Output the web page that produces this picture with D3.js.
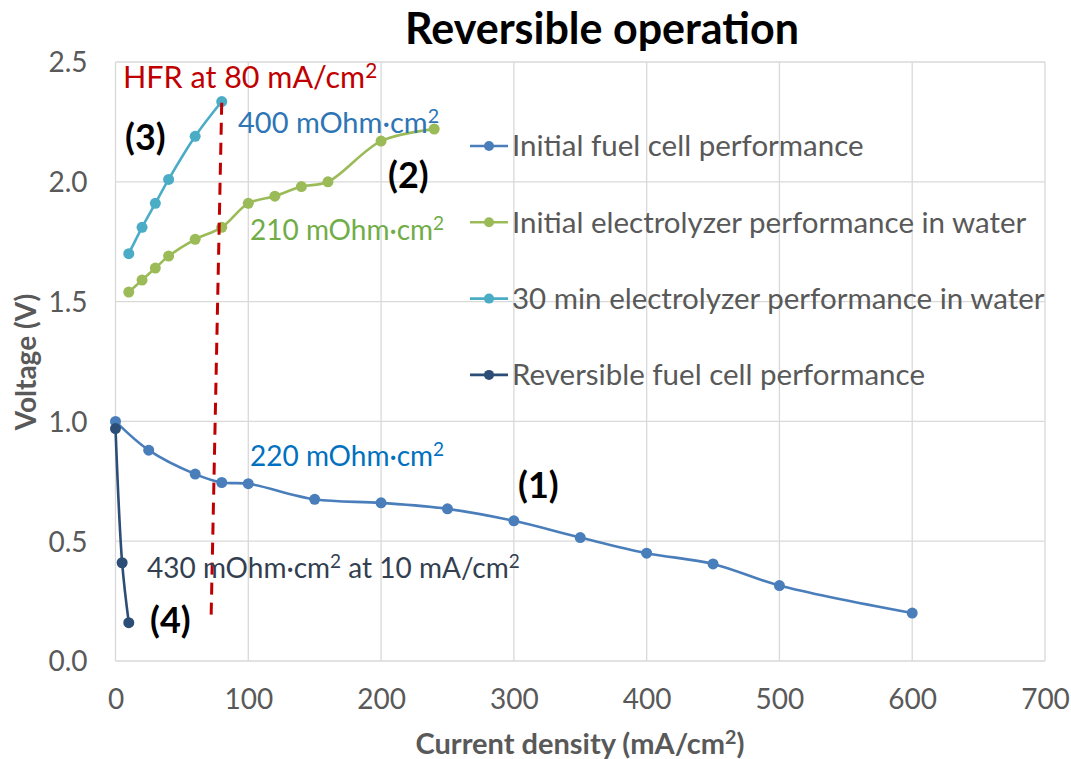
<!DOCTYPE html>
<html>
<head>
<meta charset="utf-8">
<script src="https://cdn.jsdelivr.net/npm/d3@7"></script>
<style>
  body { margin: 0; background: #fff; }
  text { font-family: Lato, "Open Sans", sans-serif; }
</style>
</head>
<body>
<div id="chart"></div>
<script>
// data
var seriesNames = [
    "Initial fuel cell performance",
    "Initial electrolyzer performance in water",
    "30 min electrolyzer performance in water",
    "Reversible fuel cell performance"
];
var seriesColors = ["#4a7ebb", "#9bbb59", "#4bacc6", "#2c4d75"];

var fuelCellX = [0, 25, 60, 80, 100, 150, 200, 250, 300, 350, 400, 450, 500, 600];
var fuelCellV = [1.00, 0.88, 0.78, 0.745, 0.74, 0.675, 0.66, 0.635, 0.585, 0.515, 0.45, 0.405, 0.315, 0.20];

var electroX = [10, 20, 30, 40, 60, 80, 100, 120, 140, 160, 200, 240];
var electroV = [1.54, 1.59, 1.64, 1.69, 1.76, 1.81, 1.91, 1.94, 1.98, 2.00, 2.17, 2.22];

var electro30X = [10, 20, 30, 40, 60, 80];
var electro30V = [1.70, 1.81, 1.91, 2.01, 2.19, 2.335];

var revFuelX = [0, 5, 10];
var revFuelV = [0.97, 0.41, 0.16];

// HFR marker line (x, V) at its two ends
var hfrLineX = [80, 72];
var hfrLineV = [2.33, 0.18];

var xTicks = [0, 100, 200, 300, 400, 500, 600, 700];
var yTicks = [0.0, 0.5, 1.0, 1.5, 2.0, 2.5];

var width = 1071, height = 759;
var svg = d3.select("#chart").append("svg")
    .attr("width", width)
    .attr("height", height);

var x = d3.scaleLinear().domain([0, 700]).range([115.5, 1045]);
var y = d3.scaleLinear().domain([0, 2.5]).range([661, 62]);

var gridColor = "#d9d9d9";
var labelColor = "#595959";

// grid
svg.append("g").selectAll("line.v")
    .data(xTicks)
    .enter().append("line")
    .attr("x1", function(d) { return x(d); })
    .attr("x2", function(d) { return x(d); })
    .attr("y1", y(0))
    .attr("y2", y(2.5))
    .attr("stroke", gridColor)
    .attr("stroke-width", 1.3);

svg.append("g").selectAll("line.h")
    .data(yTicks)
    .enter().append("line")
    .attr("x1", x(0))
    .attr("x2", x(700))
    .attr("y1", function(d) { return y(d); })
    .attr("y2", function(d) { return y(d); })
    .attr("stroke", gridColor)
    .attr("stroke-width", 1.3);

// axes (labels only, Excel style)
var xAxis = svg.append("g")
    .attr("transform", "translate(0," + y(0) + ")")
    .call(d3.axisBottom(x).tickValues(xTicks).tickSize(0).tickPadding(28));
var yAxis = svg.append("g")
    .attr("transform", "translate(" + x(0) + ",0)")
    .call(d3.axisLeft(y).tickValues(yTicks).tickFormat(d3.format(".1f")).tickSize(0).tickPadding(28));

[xAxis, yAxis].forEach(function(a) {
    a.select(".domain").remove();
    a.selectAll("text")
        .attr("font-family", "Lato, sans-serif")
        .attr("font-size", "28px")
        .attr("fill", labelColor);
});
yAxis.selectAll("text").attr("dy", "0.35em");

// series
var series = [
    { x: fuelCellX, v: fuelCellV },
    { x: electroX, v: electroV },
    { x: electro30X, v: electro30V },
    { x: revFuelX, v: revFuelV }
];

var line = d3.line()
    .x(function(d) { return x(d[0]); })
    .y(function(d) { return y(d[1]); })
    .curve(d3.curveCatmullRom.alpha(0.5));

series.forEach(function(s, i) {
    var pts = d3.zip(s.x, s.v);
    svg.append("path")
        .datum(pts)
        .attr("d", line)
        .attr("fill", "none")
        .attr("stroke", seriesColors[i])
        .attr("stroke-width", 2.6);
    svg.append("g").selectAll("circle")
        .data(pts)
        .enter().append("circle")
        .attr("cx", function(d) { return x(d[0]); })
        .attr("cy", function(d) { return y(d[1]); })
        .attr("r", 5.5)
        .attr("fill", seriesColors[i]);
});

// HFR dashed line
svg.append("line")
    .attr("x1", x(hfrLineX[0]))
    .attr("y1", y(hfrLineV[0]))
    .attr("x2", x(hfrLineX[1]))
    .attr("y2", y(hfrLineV[1]))
    .attr("stroke", "#c00000")
    .attr("stroke-width", 3)
    .attr("stroke-dasharray", "12,8");

// legend
var legend = svg.append("g").attr("transform", "translate(470,146)");
seriesNames.forEach(function(name, i) {
    var g = legend.append("g").attr("transform", "translate(0," + (i * 76.3) + ")");
    g.append("line")
        .attr("x1", 0).attr("x2", 38)
        .attr("y1", 0).attr("y2", 0)
        .attr("stroke", seriesColors[i])
        .attr("stroke-width", 2.6);
    g.append("circle")
        .attr("cx", 19).attr("cy", 0).attr("r", 5)
        .attr("fill", seriesColors[i]);
    g.append("text")
        .attr("x", 42)
        .attr("y", 0)
        .attr("dy", "0.35em")
        .attr("font-size", "29.5px")
        .attr("fill", labelColor)
        .text(name);
});

// annotations; "^" marks a superscript 2
function addRich(sel, str) {
    var parts = str.split("^");
    parts.forEach(function(p, i) {
        if (i > 0) {
            sel.append("tspan").attr("font-size", "0.68em").attr("dy", "-0.5em").text("2");
            sel.append("tspan").attr("dy", "0.34em").text(p);
        } else {
            sel.append("tspan").text(p);
        }
    });
}

var notes = [
    { t: "HFR at 80 mA/cm^", x: 123, y: 88, c: "#c00000", b: false, s: 30.5 },
    { t: "400 mOhm·cm^", x: 238, y: 133, c: "#2e75b6", b: false, s: 29 },
    { t: "210 mOhm·cm^", x: 250, y: 240, c: "#70ad47", b: false, s: 28 },
    { t: "220 mOhm·cm^", x: 250, y: 466, c: "#0070c0", b: false, s: 28 },
    { t: "430 mOhm·cm^ at 10 mA/cm^", x: 147, y: 578, c: "#333f50", b: false, s: 28 },
    { t: "(3)", x: 125, y: 150, c: "#000", b: true, s: 36 },
    { t: "(2)", x: 388, y: 188, c: "#000", b: true, s: 36 },
    { t: "(1)", x: 518, y: 498, c: "#000", b: true, s: 36 },
    { t: "(4)", x: 150, y: 633, c: "#000", b: true, s: 36 }
];
notes.forEach(function(d) {
    var t = svg.append("text")
        .attr("x", d.x)
        .attr("y", d.y)
        .attr("font-size", d.s + "px")
        .attr("font-weight", d.b ? "bold" : "normal")
        .attr("fill", d.c);
    addRich(t, d.t);
});

// titles
svg.append("text")
    .attr("x", 602)
    .attr("y", 44)
    .attr("text-anchor", "middle")
    .attr("font-size", "43px")
    .attr("font-weight", "bold")
    .attr("fill", "#000")
    .text("Reversible operation");

var xt = svg.append("text")
    .attr("x", 580)
    .attr("y", 754)
    .attr("text-anchor", "middle")
    .attr("font-size", "29px")
    .attr("font-weight", "bold")
    .attr("fill", labelColor);
addRich(xt, "Current density (mA/cm^)");

svg.append("text")
    .attr("transform", "translate(36,362) rotate(-90)")
    .attr("text-anchor", "middle")
    .attr("font-size", "28px")
    .attr("font-weight", "bold")
    .attr("fill", labelColor)
    .text("Voltage (V)");
</script>
</body>
</html>
